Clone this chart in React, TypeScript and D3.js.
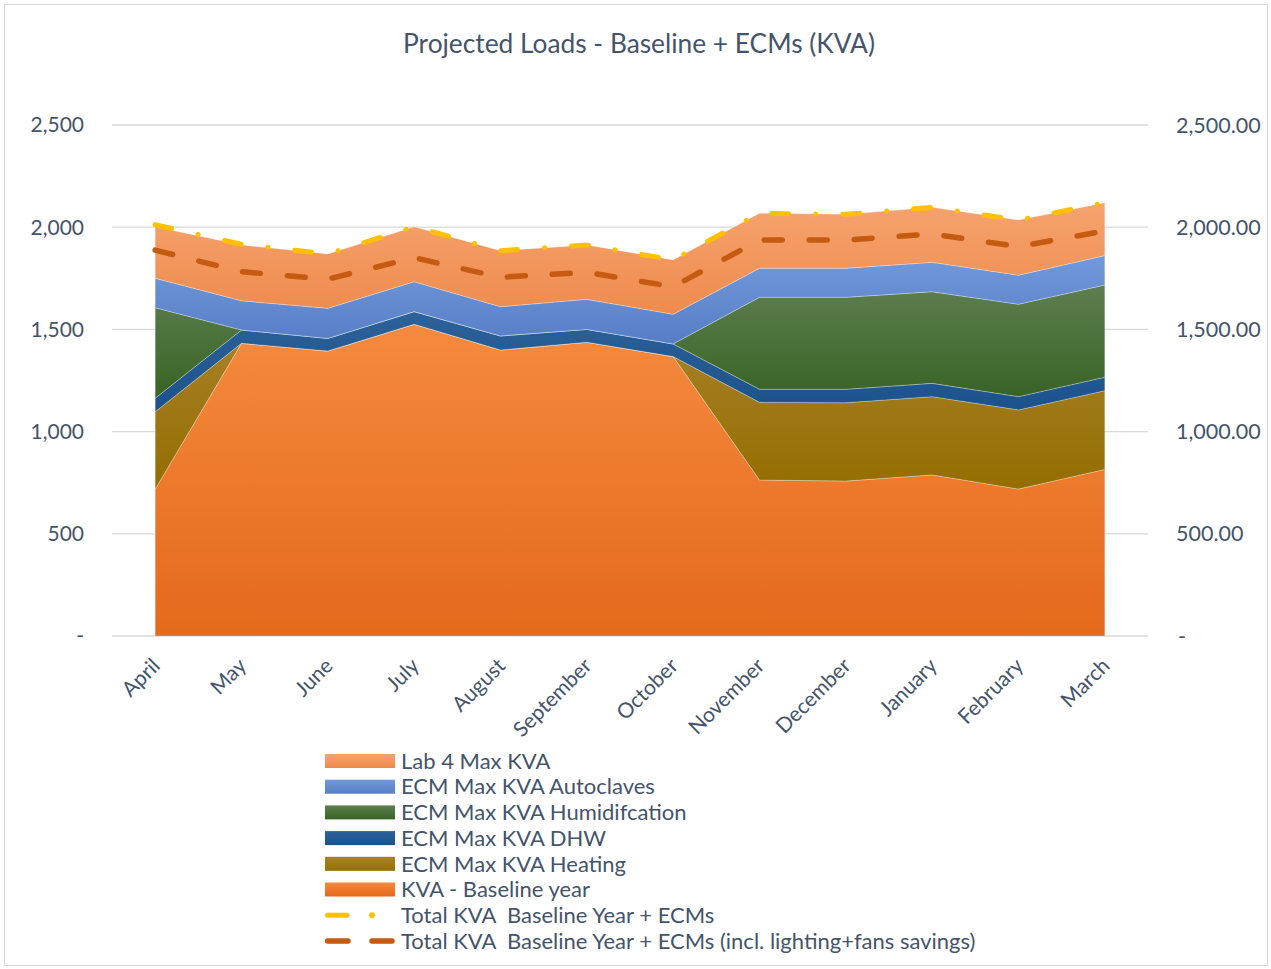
import React from 'react';
import * as d3 from 'd3';

// monthly values (KVA)
const months = ['April', 'May', 'June', 'July', 'August', 'September', 'October', 'November', 'December', 'January', 'February', 'March'];
const baseline = [718, 1432, 1394, 1525, 1399, 1437, 1367, 763, 758, 788, 719, 815];
const heating = [379, 0, 0, 0, 0, 0, 0, 380, 383, 383, 387, 385];
const dhw = [66, 65, 62, 62, 69, 63, 62, 64, 66, 65, 65, 66];
const humidification = [443, 0, 0, 0, 0, 0, 0, 450, 450, 448, 452, 451];
const autoclaves = [144, 143, 147, 146, 143, 147, 145, 142, 142, 144, 142, 144];
const lab4 = [252, 273, 266, 269, 274, 266, 266, 269, 264, 269, 270, 259];
const totalEcm = [2012, 1916, 1869, 2002, 1885, 1913, 1840, 2068, 2063, 2097, 2035, 2120];
const totalSavings = [1888, 1782, 1746, 1851, 1755, 1779, 1709, 1937, 1937, 1967, 1905, 1982];
const yTicks = [0, 500, 1000, 1500, 2000, 2500];

const W = 1271;
const H = 969;
const margin = { top: 125, right: 123, bottom: 333, left: 112 };
const FONT = 'Lato, "Open Sans", sans-serif';
const TXT = '#44546a';

const series = [
  { key: 'baseline', name: 'KVA - Baseline year', values: baseline, top: '#f58a3e', bottom: '#e4691b' },
  { key: 'heating', name: 'ECM Max KVA Heating', values: heating, top: '#a8822a', bottom: '#946e00' },
  { key: 'dhw', name: 'ECM Max KVA DHW', values: dhw, top: '#2c6199', bottom: '#1c528c' },
  { key: 'humid', name: 'ECM Max KVA Humidifcation', values: humidification, top: '#5c7f50', bottom: '#386324' },
  { key: 'auto', name: 'ECM Max KVA Autoclaves', values: autoclaves, top: '#7299da', bottom: '#577dc6' },
  { key: 'lab4', name: 'Lab 4 Max KVA', values: lab4, top: '#f6a36f', bottom: '#ee8b4c' },
];

export default function App() {
  const x = d3.scaleBand<string>()
    .domain(months)
    .range([margin.left, W - margin.right])
    .paddingInner(0);
  const cx = (m: string) => (x(m) as number) + x.bandwidth() / 2;

  const y = d3.scaleLinear()
    .domain([0, 2500])
    .range([H - margin.bottom, margin.top]);

  const table = months.map((m, i) => {
    const row: any = { month: m };
    series.forEach(s => { row[s.key] = s.values[i]; });
    return row;
  });
  const stacked = d3.stack().keys(series.map(s => s.key))(table);

  const area = d3.area<any>()
    .x(d => cx(d.data.month))
    .y0(d => y(d[0]))
    .y1(d => y(d[1]));

  const line = d3.line<number>()
    .x((d, i) => cx(months[i]))
    .y(d => y(d));

  const fmtL = (v: number) => (v === 0 ? '-' : d3.format(',')(v));
  const fmtR = (v: number) => (v === 0 ? '-' : d3.format(',.2f')(v));

  // legend, top entry first
  const legendItems = [...series].reverse();
  const legX = 325;
  const legY0 = 761;
  const legStep = 25.7;

  return (
    <svg width={W} height={H} style={{ position: 'absolute', left: 0, top: 0, background: '#fff' }} fontFamily={FONT}>
      <defs>
        {series.map(s => (
          <linearGradient key={s.key} id={'g-' + s.key} x1="0" y1="0" x2="0" y2="1">
            <stop offset="0" stopColor={s.top} />
            <stop offset="1" stopColor={s.bottom} />
          </linearGradient>
        ))}
      </defs>
      <rect x={4.5} y={4.5} width={W - 8} height={H - 8} fill="#fff" stroke="#d9d9d9" strokeWidth={1} />

      <text x={639} y={53} textAnchor="middle" fontSize={26.3} fill={TXT}>
        Projected Loads - Baseline + ECMs (KVA)
      </text>

      {/* gridlines */}
      {yTicks.map(t => (
        <line key={t} x1={margin.left} x2={W - margin.right} y1={y(t)} y2={y(t)} stroke="#d9d9d9" strokeWidth={1.3} />
      ))}

      {/* stacked areas */}
      {stacked.map((layer, i) => (
        <path key={series[i].key} d={area(layer as any) || ''} fill={`url(#g-${series[i].key})`}
          stroke="#ffffff" strokeOpacity={0.35} strokeWidth={0.8} />
      ))}

      {/* total lines */}
      <path d={line(totalEcm) || ''} fill="none" stroke="#ffc000" strokeWidth={5}
        strokeLinecap="round" strokeDasharray="17 27 0.1 27" />
      <path d={line(totalSavings) || ''} fill="none" stroke="#c55a11" strokeWidth={5.5}
        strokeLinecap="round" strokeDasharray="18 27" />

      {/* left axis labels */}
      {yTicks.map(t => (
        <text key={'l' + t} x={84} y={y(t)} dy="0.35em" textAnchor="end" fontSize={21} fill={TXT}>{fmtL(t)}</text>
      ))}
      {/* right axis labels */}
      {yTicks.map(t => (
        <text key={'r' + t} x={t === 0 ? 1178 : 1176} y={y(t)} dy="0.35em" textAnchor="start" fontSize={21.5} fill={TXT}>{fmtR(t)}</text>
      ))}

      {/* x labels */}
      {months.map(m => (
        <text key={m} transform={`translate(${cx(m) + 1},${H - margin.bottom + 26}) rotate(-45)`}
          textAnchor="end" fontSize={21} fill={TXT} dy="0.35em">{m}</text>
      ))}

      {/* legend */}
      {legendItems.map((s, i) => (
        <g key={s.key} transform={`translate(${legX},${legY0 + i * legStep})`}>
          <rect x={0} y={-7} width={70} height={14} fill={`url(#g-${s.key})`} />
          <text x={76} y={0} dy="0.35em" fontSize={22} fill={TXT}>{s.name}</text>
        </g>
      ))}
      <g transform={`translate(${legX},${legY0 + 6 * legStep})`}>
        <line x1={2.5} x2={22} y1={0} y2={0} stroke="#ffc000" strokeWidth={5} strokeLinecap="round" />
        <circle cx={47} cy={0} r={3} fill="#ffc000" />
        <text x={76} y={0} dy="0.35em" fontSize={22} fill={TXT} style={{ whiteSpace: 'pre' }}>Total KVA  Baseline Year + ECMs</text>
      </g>
      <g transform={`translate(${legX},${legY0 + 7 * legStep})`}>
        <line x1={2.5} x2={23} y1={0} y2={0} stroke="#c55a11" strokeWidth={5.5} strokeLinecap="round" />
        <line x1={47} x2={67} y1={0} y2={0} stroke="#c55a11" strokeWidth={5.5} strokeLinecap="round" />
        <text x={76} y={0} dy="0.35em" fontSize={22} fill={TXT} style={{ whiteSpace: 'pre' }}>Total KVA  Baseline Year + ECMs (incl. lighting+fans savings)</text>
      </g>
    </svg>
  );
}
